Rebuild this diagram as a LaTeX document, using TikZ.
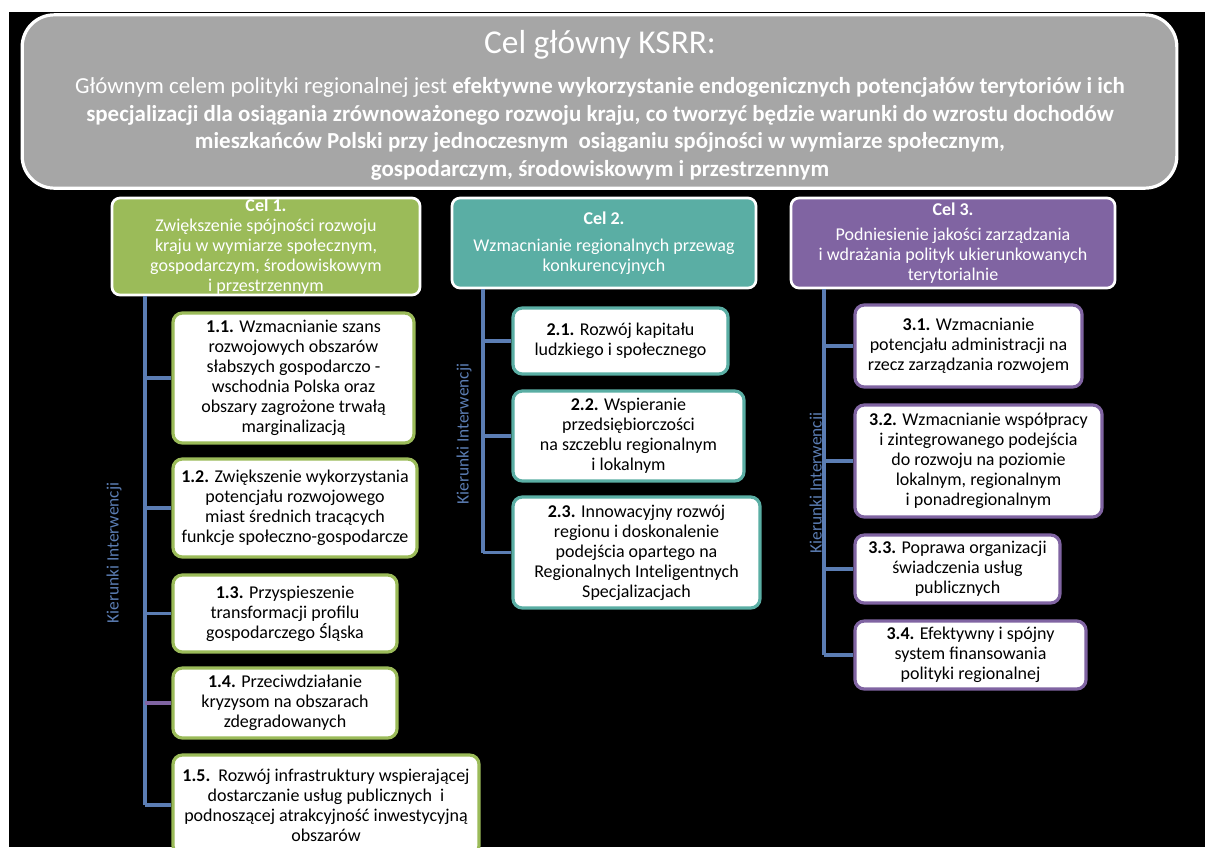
\documentclass[tikz,border=0pt]{standalone}
\usepackage{fontspec}
\setmainfont{Carlito}
\definecolor{szary}{HTML}{A6A6A6}
\definecolor{zielony}{HTML}{9BBB59}
\definecolor{morski}{HTML}{5AAEA4}
\definecolor{fiolet}{HTML}{8064A2}
\definecolor{linia}{HTML}{5B7DB3}
\begin{document}
\begin{tikzpicture}[x=0.75pt,y=-0.75pt,
	tekst/.style={font=\fontsize{13.5}{15}\selectfont},
	cel/.style={tekst,draw=white,line width=2pt,rounded corners=6pt,text=white,align=center,inner sep=0pt},
	kier/.style={tekst,draw=#1,fill=white,line width=2.4pt,rounded corners=7pt,align=center,inner sep=0pt},
	pion/.style={draw=linia,line width=2.6pt},
	opis/.style={font=\fontsize{13}{15}\selectfont,text=linia,rotate=90}]
	% tlo
	\fill[white] (0,0) rectangle (1205,847);
	\fill[black] (9,12) rectangle (1205,847);
	\useasboundingbox (0,0) rectangle (1205,847);
	% cel glowny
	\node[draw=white,fill=szary,line width=2.4pt,rounded corners=24pt,minimum width=866pt,minimum height=130pt] (glowny) at (599.5,101.5) {};
	\node[text=white,font=\fontsize{25}{28}\selectfont] (tytul) at (600,45) {Cel główny KSRR:};
	\node[text=white,align=center,font=\fontsize{17.2}{20.6}\selectfont] (opisgl) at (600,129)
		{Głównym celem polityki regionalnej jest \textbf{efektywne wykorzystanie endogenicznych potencjałów terytoriów i ich}\\
		\textbf{specjalizacji dla osiągania zrównoważonego rozwoju kraju, co tworzyć będzie warunki do wzrostu dochodów}\\
		\textbf{mieszkańców Polski przy jednoczesnym\ \ osiąganiu spójności w wymiarze społecznym,}\\
		\textbf{gospodarczym, środowiskowym i przestrzennym}};
	% cele
	\node[cel,fill=zielony,minimum width=231pt,minimum height=72.75pt] (c1) at (266,246.5)
		{\textbf{Cel 1.}\\Zwiększenie spójności rozwoju\\kraju w wymiarze społecznym,\\gospodarczym, środowiskowym\\i przestrzennym};
	\node[cel,fill=morski,minimum width=228pt,minimum height=67.5pt] (c2) at (604,243)
		{\textbf{Cel 2.}\\[5pt]Wzmacnianie regionalnych przewag\\konkurencyjnych};
	\node[cel,fill=fiolet,minimum width=243pt,minimum height=67.5pt] (c3) at (953,243)
		{\textbf{Cel 3.}\\[4pt]Podniesienie jakości zarządzania\\i wdrażania polityk ukierunkowanych\\terytorialnie};
	% kierunki interwencji
	\coordinate (p1) at (145,300);
	\coordinate (p2) at (483,300);
	\coordinate (p3) at (824,300);
	\node[kier=zielony,minimum width=180.75pt,minimum height=97.5pt] (k11) at (293.5,378)
		{\textbf{1.1.} Wzmacnianie szans\\rozwojowych obszarów\\słabszych gospodarczo -\\wschodnia Polska oraz\\obszary zagrożone trwałą\\marginalizacją};
	\node[kier=zielony,minimum width=183pt,minimum height=73.5pt] (k12) at (295,508)
		{\textbf{1.2.} Zwiększenie wykorzystania\\potencjału rozwojowego\\miast średnich tracących\\funkcje społeczno-gospodarcze};
	\node[kier=zielony,minimum width=168pt,minimum height=57.75pt] (k13) at (285,613.5)
		{\textbf{1.3.} Przyspieszenie\\transformacji profilu\\gospodarczego Śląska};
	\node[kier=zielony,minimum width=168pt,minimum height=52.5pt] (k14) at (285,703)
		{\textbf{1.4.} Przeciwdziałanie\\kryzysom na obszarach\\zdegradowanych};
	\node[kier=zielony,minimum width=229.5pt,minimum height=75pt] (k15) at (326,805)
		{\textbf{1.5.}\ \ Rozwój infrastruktury wspierającej\\dostarczanie usług publicznych\ \ i\\podnoszącej atrakcyjność inwestycyjną\\obszarów};
	\node[kier=morski,minimum width=161.25pt,minimum height=49.5pt] (k21) at (620.5,341)
		{\textbf{2.1.} Rozwój kapitału\\ludzkiego i społecznego};
	\node[kier=morski,minimum width=173.25pt,minimum height=67.5pt] (k22) at (628.5,436)
		{\textbf{2.2.} Wspieranie\\przedsiębiorczości\\na szczeblu regionalnym\\i lokalnym};
	\node[kier=morski,minimum width=185.25pt,minimum height=83.25pt] (k23) at (636.5,552.5)
		{\textbf{2.3.} Innowacyjny rozwój\\regionu i doskonalenie\\podejścia opartego na\\Regionalnych Inteligentnych\\Specjalizacjach};
	\node[kier=fiolet,minimum width=170.25pt,minimum height=61.5pt] (k31) at (968.5,346)
		{\textbf{3.1.} Wzmacnianie\\potencjału administracji na\\rzecz zarządzania rozwojem};
	\node[kier=fiolet,minimum width=185.25pt,minimum height=84pt] (k32) at (978.5,461)
		{\textbf{3.2.} Wzmacnianie współpracy\\i zintegrowanego podejścia\\do rozwoju na poziomie\\lokalnym, regionalnym\\i ponadregionalnym};
	\node[kier=fiolet,minimum width=153.75pt,minimum height=51pt] (k33) at (957.5,569)
		{\textbf{3.3.} Poprawa organizacji\\świadczenia usług\\publicznych};
	\node[kier=fiolet,minimum width=173.25pt,minimum height=51pt] (k34) at (970.5,655)
		{\textbf{3.4.} Efektywny i spójny\\system finansowania\\polityki regionalnej};
	% linie
	\draw[pion] (c1.south -| p1) -- (k15.west -| p1);
	\foreach \k in {k11,k12,k13,k15}
		\draw[pion] (\k.west -| p1) -- (\k.west);
	\draw[pion,draw=fiolet] (k14.west -| p1) -- (k14.west);
	\draw[pion] (c2.south -| p2) -- (k23.west -| p2);
	\foreach \k in {k21,k22,k23}
		\draw[pion] (\k.west -| p2) -- (\k.west);
	\draw[pion] (c3.south -| p3) -- (k34.west -| p3);
	\foreach \k in {k31,k32,k33,k34}
		\draw[pion] (\k.west -| p3) -- (\k.west);
	\node[opis] (o1) at (114,553) {Kierunki Interwencji};
	\node[opis] (o2) at (464,434) {Kierunki Interwencji};
	\node[opis] (o3) at (817,483) {Kierunki Interwencji};
\end{tikzpicture}
\end{document}
